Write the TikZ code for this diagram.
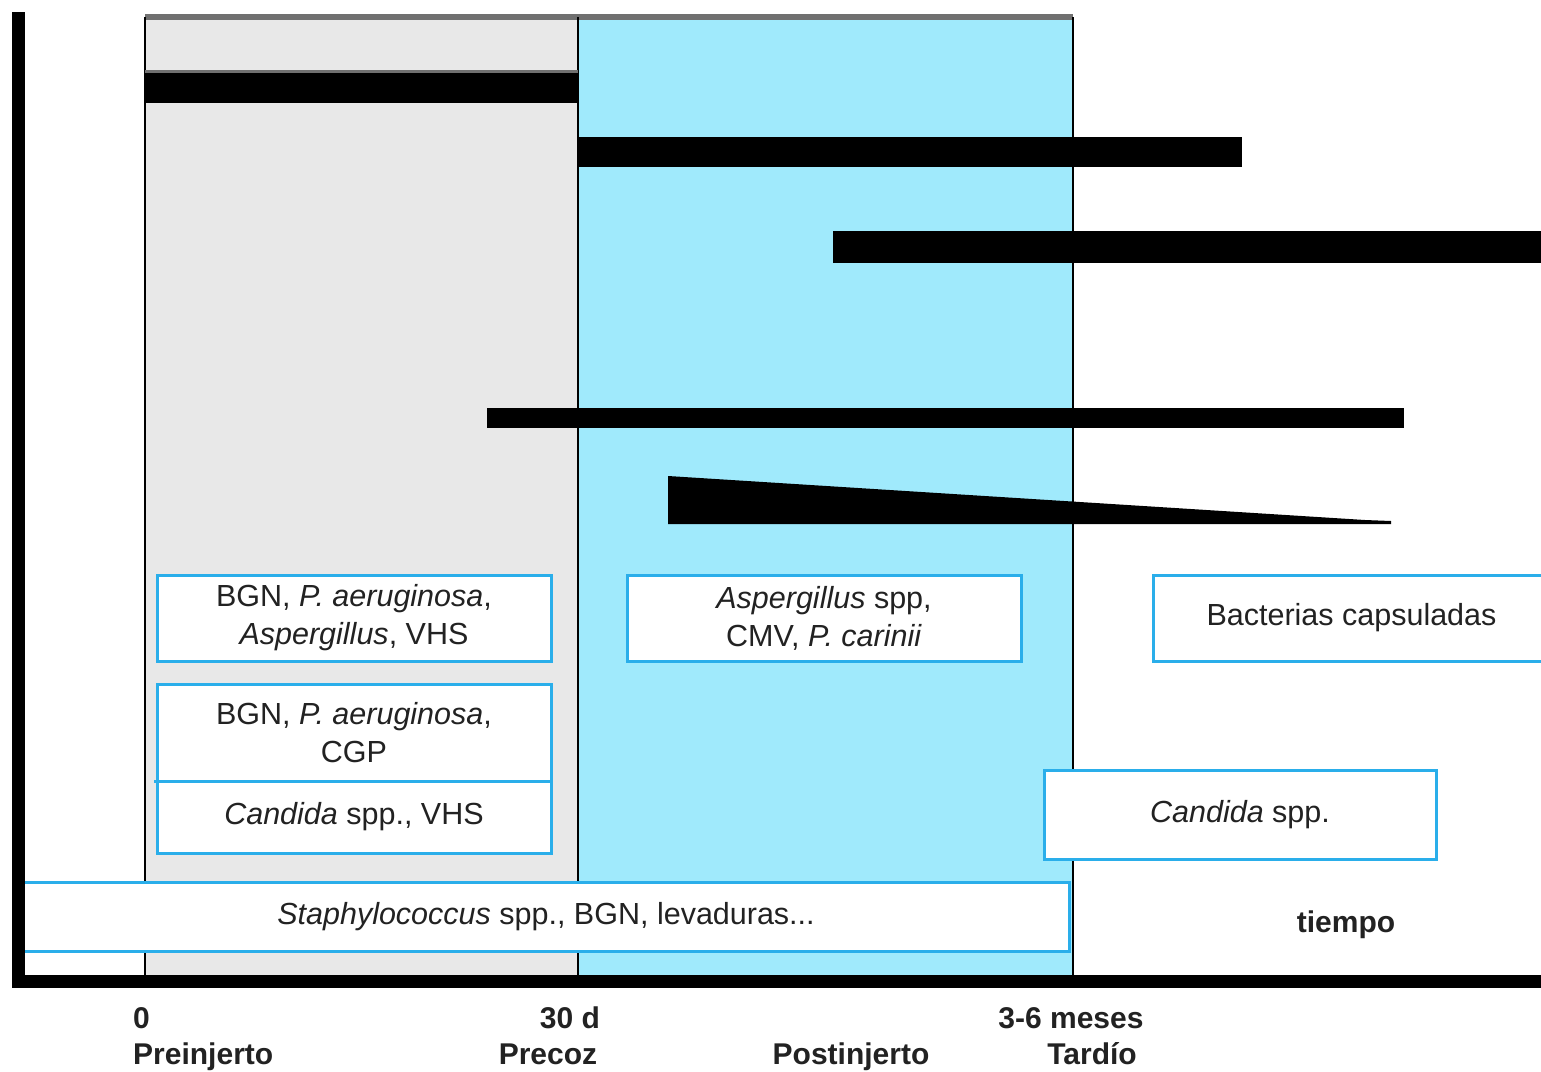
\documentclass[tikz,border=0pt]{standalone}
\usepackage{fontspec}
\setmainfont{Liberation Sans}
\definecolor{greyfill}{HTML}{E8E8E8}
\definecolor{bluefill}{HTML}{A0EAFC}
\definecolor{boxblue}{HTML}{2AAEEA}
\definecolor{topgrey}{HTML}{707070}
\definecolor{txt}{HTML}{222222}
\begin{document}
\begin{tikzpicture}[x=1pt,y=-1pt,
  box/.style={draw=boxblue, line width=3pt, fill=white, inner sep=0pt, outer sep=0pt,
    align=center, text=txt, font=\fontsize{30.5}{38}\selectfont},
  lbl/.style={text=txt, inner sep=0pt, font=\fontsize{30}{36}\selectfont\bfseries},
  vline/.style={line width=2.5pt, draw=black},
  bar/.style={fill=black}]
\useasboundingbox (0,0) rectangle (1541,1071);
\fill[white] (0,0) rectangle (1541,1071);
% regions
\fill[greyfill] (145,17) rectangle (578,975);
\fill[bluefill] (578,17) rectangle (1073,975);
\fill[topgrey] (145,14) rectangle (1073,20);
\draw[vline] (145,17) -- (145,975);
\draw[vline] (578,17) -- (578,975);
\draw[vline] (1073,17) -- (1073,975);
% bars
\fill[topgrey] (145,70) rectangle (578,74);
\fill[bar] (145,73) rectangle (578,103);
\fill[bar] (578,137) rectangle (1242,167);
\fill[bar] (833,231) rectangle (1541,263);
\fill[bar] (487,408) rectangle (1404,428);
\fill[bar] (668,476) -- (1365,520) -- (1391,521) -- (1391,524) -- (668,524) -- cycle;
% boxes
\node[box, minimum width=394pt, minimum height=86pt] (a) at (354,618)
  {BGN, \textit{P. aeruginosa},\\ \textit{Aspergillus}, VHS};
\node[box, minimum width=394pt, minimum height=97pt] (b) at (354,732.5)
  {BGN, \textit{P. aeruginosa},\\ CGP};
\node[box, minimum width=394pt, minimum height=72pt] (c) at (354,817)
  {\textit{Candida} spp., VHS};
\draw[boxblue, line width=3pt] (154,781) -- (b.south west);
\node[box, minimum width=394pt, minimum height=86pt] (d) at (824,618)
  {\textit{Aspergillus} spp,\\ CMV, \textit{P. carinii}};
\node[box, minimum width=427pt, minimum height=86pt] (e) at (1366.5,618)
  {\hspace*{-30pt}Bacterias capsuladas};
\node[box, minimum width=392pt, minimum height=89pt] (f) at (1240,814.5)
  {\textit{Candida} spp.};
\node[box, minimum width=1046pt, minimum height=69pt] (g) at (546,916.5)
  {\textit{Staphylococcus} spp., BGN, levaduras...};
% axes
\fill[black] (12,12) rectangle (25,988);
\fill[black] (12,975) rectangle (1541,988);
% labels
\node[lbl] (tiempo) at (1346,925) {tiempo};
\node[lbl, anchor=base west] (t0) at (133,1028) {0};
\node[lbl, anchor=base west] (pre) at (133,1064) {Preinjerto};
\node[lbl, anchor=base] (t30) at (570,1028) {30 d};
\node[lbl, anchor=base] (precoz) at (548,1064) {Precoz};
\node[lbl, anchor=base] (post) at (851,1064) {Postinjerto};
\node[lbl, anchor=base] (t36) at (1071,1028) {3-6 meses};
\node[lbl, anchor=base] (tard) at (1092,1064) {Tardío};
\end{tikzpicture}
\end{document}
